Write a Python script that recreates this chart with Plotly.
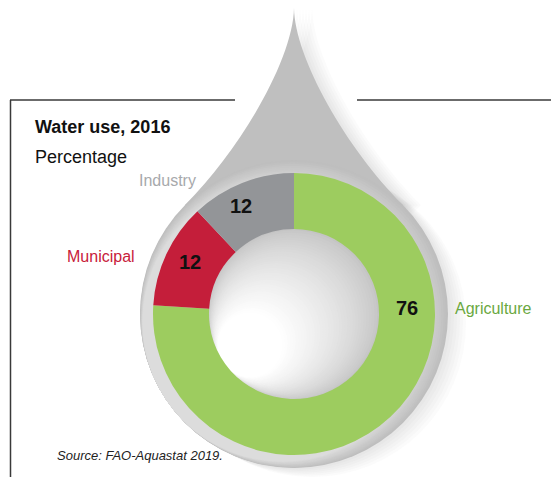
import plotly.graph_objects as go

# data
sectors = ["Agriculture", "Municipal", "Industry"]
shares = [76, 12, 12]
colors = ["#9dcc5f", "#c41e3a", "#939598"]
label_colors = ["#6aa83f", "#c8203a", "#a7a9ac"]

# the page body adds an 8px margin, so the figure is made that much smaller
OFF = 8
W, H = 559 - OFF, 477 - OFF


def px(x):
    return (x - OFF) / W


def py(y):
    return 1 - (y - OFF) / H


def mix(c1, c2, t):
    a = [int(c1[i:i + 2], 16) for i in (1, 3, 5)]
    b = [int(c2[i:i + 2], 16) for i in (1, 3, 5)]
    return "rgb(%d,%d,%d)" % tuple(round(a[i] + (b[i] - a[i]) * t) for i in range(3))


def circle(cx, cy, r, color, opacity=1):
    return dict(type="circle", xref="paper", yref="paper", layer="below",
                x0=px(cx - r), x1=px(cx + r), y0=py(cy + r), y1=py(cy - r),
                fillcolor=color, line=dict(width=0), opacity=opacity)


def drop_top(dx, color, opacity=1):
    pts = [(294, 7), (294, 57), (241.6, 148.4), (185, 205), (294, 314),
           (403, 205), (346.4, 148.4), (294, 57), (294, 7)]
    p = [(px(x + dx), py(y)) for x, y in pts]
    path = "M %f,%f C %f,%f %f,%f %f,%f L %f,%f L %f,%f C %f,%f %f,%f %f,%f Z" % tuple(
        v for xy in p for v in xy)
    return dict(type="path", xref="paper", yref="paper", layer="below", path=path,
                fillcolor=color, line=dict(width=0), opacity=opacity)


cx, cy = 294, 314
shapes = []

# soft shadow on the right of the drop
for i in range(1, 7):
    shapes.append(circle(cx + 3 * i, cy + 1.5 * i, 154, "#9a9a9a", 0.045))
    shapes.append(drop_top(3 * i, "#9a9a9a", 0.035))

# drop body with lighter lower-left halo
shapes.append(drop_top(0, "#bfbfbf"))
n = 12
for i in range(n + 1):
    t = i / n
    shapes.append(circle(cx - 12 * t, cy + 8 * t, 154 - 14.5 * t, mix("#bebebe", "#dcdcdc", t)))

# shading in the hole: circles shrinking towards the lower-left highlight
n = 36
dx, dy = -44, 31
dist = (dx ** 2 + dy ** 2) ** 0.5
for i in range(n + 1):
    t = i / n
    shapes.append(circle(cx + dx * t, cy + dy * t, 86 - dist * t,
                         mix("#c4c4c4", "#ffffff", t ** 0.75)))

# frame lines
line = dict(color="#3a3a3a", width=1.5)
shapes += [
    dict(type="line", xref="paper", yref="paper", x0=px(10), x1=px(235), y0=py(100), y1=py(100), line=line),
    dict(type="line", xref="paper", yref="paper", x0=px(357), x1=px(575), y0=py(100), y1=py(100), line=line),
    dict(type="line", xref="paper", yref="paper", x0=px(10.5), x1=px(10.5), y0=py(100), y1=0, line=line),
]

fig = go.Figure(go.Pie(
    labels=sectors, values=shares, sort=False, direction="clockwise", rotation=0,
    hole=0.603, marker=dict(colors=colors, line=dict(width=0)),
    textinfo="none", showlegend=False,
    domain=dict(x=[px(cx - 141), px(cx + 141)], y=[py(cy + 141), py(cy - 141)]),
))

font = "Liberation Sans, Arial, sans-serif"
annotations = [
    dict(x=px(33), y=py(127), text="<b>Water use, 2016</b>", font=dict(size=18, color="#111")),
    dict(x=px(33), y=py(157), text="Percentage", font=dict(size=18, color="#111")),
    dict(x=px(55), y=py(455), text="<i>Source: FAO-Aquastat 2019.</i>", font=dict(size=13, color="#222")),
]
# sector names and values
label_pos = [(453, 308), (65, 257), (137, 180)]
value_pos = [(407, 308), (190, 262), (241, 206)]
for name, val, c, (lx, ly), (vx, vy) in zip(sectors, shares, label_colors, label_pos, value_pos):
    annotations.append(dict(x=px(lx), y=py(ly), text=name, font=dict(size=16, color=c)))
    annotations.append(dict(x=px(vx), y=py(vy), text="<b>%d</b>" % val, xanchor="center",
                            font=dict(size=20, color="#111")))
for a in annotations:
    a.setdefault("xanchor", "left")
    a.update(xref="paper", yref="paper", yanchor="middle", showarrow=False)
    a["font"]["family"] = font

fig.update_layout(
    width=W, height=H, margin=dict(l=0, r=0, t=0, b=0),
    paper_bgcolor="white", plot_bgcolor="white",
    shapes=shapes, annotations=annotations,
)

fig.write_html("out.html")
